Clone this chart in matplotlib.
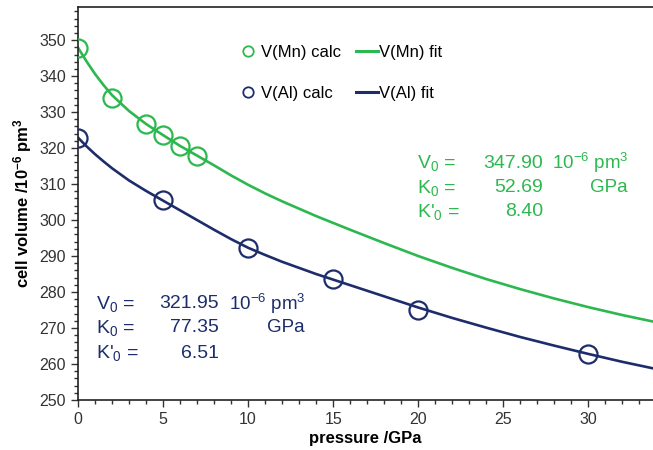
import matplotlib
matplotlib.use("Agg")
import matplotlib.pyplot as plt
from matplotlib.lines import Line2D
from matplotlib.ticker import MultipleLocator

plt.rcParams['font.family'] = ['Liberation Sans', 'DejaVu Sans']
plt.rcParams['mathtext.fontset'] = 'custom'
plt.rcParams['mathtext.rm'] = 'Liberation Sans'
plt.rcParams['mathtext.it'] = 'Liberation Sans:italic'
plt.rcParams['mathtext.bf'] = 'Liberation Sans:bold'

# calculated points
p_mn = [0, 2, 4, 5, 6, 7]
v_mn = [347.9, 333.8, 326.8, 323.7, 320.6, 317.8]
p_al = [0, 5, 10, 15, 20, 30]
v_al = [322.9, 305.5, 292.2, 283.7, 275.1, 262.8]

# fit curves
p_fit_mn = [0, 0.5, 1, 1.5, 2, 3, 4, 5, 6, 7, 8, 9, 10, 11, 12, 14, 16, 18, 20, 22, 24, 26, 28, 30, 32, 34]
v_fit_mn = [347.9, 344.1, 340.6, 337.5, 334.7, 330.3, 326.7, 323.6, 320.6, 317.9, 315.2, 312.4, 309.8,
            307.4, 305.2, 301.1, 297.3, 293.6, 290.0, 286.7, 283.6, 280.8, 278.2, 275.8, 273.6, 271.6]
p_fit_al = [0, 0.5, 1, 1.5, 2, 3, 4, 5, 6, 7, 8, 9, 10, 11, 12, 14, 16, 18, 20, 22, 24, 26, 28, 30, 32, 34]
v_fit_al = [322.9, 320.5, 318.3, 316.3, 314.4, 311.0, 308.1, 305.4, 302.7, 300.0, 297.3, 294.7, 292.3,
            290.3, 288.4, 285.0, 281.9, 278.8, 275.7, 272.8, 270.1, 267.5, 265.1, 262.8, 260.6, 258.6]

green = '#2cb84e'
navy = '#1d2d6b'

W, H = 653, 450
fig = plt.figure(figsize=(W / 100, H / 100), dpi=100)
ax = fig.add_axes([78 / W, 1 - 400 / H, 1 - 78 / W, 393 / H])

ax.plot(p_fit_mn, v_fit_mn, color=green, lw=1.9, zorder=2)
ax.plot(p_fit_al, v_fit_al, color=navy, lw=1.9, zorder=2)
ax.plot(p_mn, v_mn, 'o', ms=13, mfc='none', mec=green, mew=1.6, zorder=3)
ax.plot(p_al, v_al, 'o', ms=13, mfc='none', mec=navy, mew=1.6, zorder=3)

ax.set_xlim(0, 33.8)
ax.set_ylim(250, 359.2)
ax.xaxis.set_major_locator(MultipleLocator(5))
ax.xaxis.set_minor_locator(MultipleLocator(1))
ax.yaxis.set_major_locator(MultipleLocator(10))
ax.yaxis.set_minor_locator(MultipleLocator(2))
ax.tick_params(which='both', direction='out', labelsize=11.5, colors='#333333', width=1)
ax.tick_params(which='major', length=5)
ax.tick_params(which='minor', length=3)
ax.spines['right'].set_visible(False)
for s in ['left', 'bottom', 'top']:
    ax.spines[s].set_linewidth(1.2)
    ax.spines[s].set_color('#222222')

ax.set_xlabel('pressure /GPa', fontsize=12, fontweight='bold', labelpad=3)
ax.set_ylabel(r'cell volume /10$^{\mathbf{-6}}$ pm$^{\mathbf{3}}$', fontsize=12,
              fontweight='bold', labelpad=4)

handles = [
    Line2D([], [], ls='none', marker='o', ms=7.5, mfc='none', mec=green, mew=1.3),
    Line2D([], [], ls='none', marker='o', ms=7.5, mfc='none', mec=navy, mew=1.3),
    Line2D([], [], color=green, lw=2.2),
    Line2D([], [], color=navy, lw=2.2),
]
labels = ['V(Mn) calc', 'V(Al) calc', 'V(Mn) fit', 'V(Al) fit']
ax.legend(handles, labels, ncol=2, frameon=False, fontsize=12, loc='upper left',
          bbox_to_anchor=(0.266, 0.921), labelspacing=1.55, columnspacing=0.9,
          handlelength=1.3, handletextpad=0.1, borderaxespad=0)


def params(x0, xv, xu, ys, color, vals):
    rows = [r'V$_0$ =', r'K$_0$ =', r"K'$_0$ ="]
    for i, (r, v) in enumerate(zip(rows, vals)):
        y = 1 - ys[i] / H
        fig.text(x0 / W, y, r, color=color, fontsize=14, va='center', ha='left')
        fig.text(xv / W, y, v, color=color, fontsize=14, va='center', ha='right')
    fig.text(xu / W, 1 - ys[0] / H, r'10$^{-6}$ pm$^3$', color=color, fontsize=13.5,
             va='center', ha='left')
    fig.text((xu + 76) / W, 1 - ys[1] / H, 'GPa', color=color, fontsize=13.5,
             va='center', ha='right')


params(417, 543, 552, [163, 188, 212], green, ['347.90', '52.69', '8.40'])
params(96, 219, 229, [304, 328, 353], navy, ['321.95', '77.35', '6.51'])

fig.savefig('out.png', dpi=100)
